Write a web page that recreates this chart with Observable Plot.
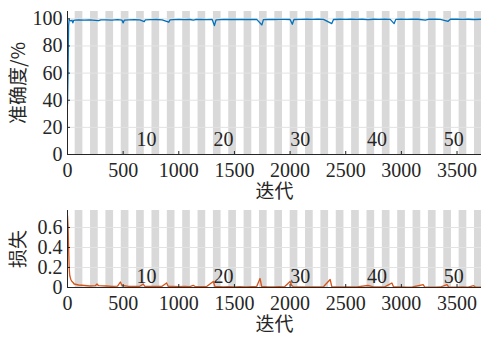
<!DOCTYPE html>
<html><head><meta charset="utf-8">
<script src="https://cdn.jsdelivr.net/npm/d3@7"></script>
<script src="https://cdn.jsdelivr.net/npm/@observablehq/plot@0.6"></script>
<style>
body{margin:0;background:#fff;overflow:hidden}
svg{display:block}
</style>
</head><body><div id="chart"></div>
<script>
const itersPerEpoch = 69;
const epochs = d3.range(1, 55);
const epochLabels = [10, 20, 30, 40, 50];
const xTicks = [0, 500, 1000, 1500, 2000, 2500, 3000, 3500];
const accTicks = [0, 20, 40, 60, 80, 100];
const lossTicks = [0, 0.2, 0.4, 0.6];
const xLabel = "迭代";
const accLabel = "准确度/%";
const lossLabel = "损失";

const accIter = [0,5,10,15,20,30,40,48,55,70,100,150,200,250,280,300,350,400,450,490,500,510,550,600,650,690,700,750,800,850,910,920,950,1000,1050,1100,1130,1150,1200,1250,1300,1320,1335,1400,1450,1500,1550,1600,1650,1700,1747,1760,1800,1850,1900,1950,2000,2020,2035,2100,2150,2200,2250,2300,2375,2390,2450,2500,2550,2600,2650,2700,2750,2800,2850,2900,2935,2950,3000,3050,3100,3150,3215,3250,3300,3350,3420,3440,3500,3550,3600,3650,3720];
const accValue = [37,60,95,99.5,99,98.5,99,97,98.8,99,99.2,99,99.3,98.9,98.6,99.2,99.3,99.1,99.4,99,97,99,99.3,99.4,99.2,98,99.3,99.4,99.5,99.3,97.5,99.2,99.4,99.5,99.4,99.5,99,99.5,99.6,99.4,99.5,95,99.3,99.6,99.5,99.6,99.5,99.6,99.5,99.6,95.5,99.4,99.6,99.5,99.6,99.6,99.5,96,99.5,99.6,99.7,99.6,99.7,99.6,96.5,99.5,99.7,99.6,99.7,99.6,99.7,99.4,99.7,99.6,99.7,99.6,96.5,99.6,99.7,99.6,99.7,99.7,99,99.7,99.7,99.6,98.2,99.7,99.7,99.6,99.7,99.5,99.7];

const lossIter = [0,5,10,15,20,30,40,50,60,80,100,150,200,250,265,280,350,400,450,475,490,550,600,650,681,695,750,800,850,890,905,950,1000,1050,1100,1130,1150,1200,1250,1310,1325,1400,1450,1500,1550,1600,1650,1700,1730,1745,1800,1850,1900,1950,2000,2015,2030,2100,2150,2200,2250,2300,2360,2375,2450,2500,2550,2600,2700,2750,2800,2850,2915,2930,3000,3050,3100,3196,3210,3300,3350,3410,3425,3500,3550,3600,3650,3665,3720];
const lossValue = [0.72,0.62,0.4,0.2,0.12,0.08,0.06,0.05,0.035,0.03,0.025,0.02,0.015,0.018,0.035,0.018,0.015,0.012,0.014,0.055,0.02,0.012,0.01,0.012,0.035,0.012,0.01,0.01,0.012,0.045,0.012,0.01,0.008,0.01,0.009,0.022,0.008,0.008,0.01,0.06,0.01,0.007,0.008,0.006,0.008,0.007,0.008,0.01,0.09,0.01,0.007,0.006,0.008,0.007,0.06,0.02,0.008,0.006,0.007,0.005,0.006,0.007,0.08,0.008,0.005,0.006,0.005,0.006,0.02,0.006,0.005,0.006,0.045,0.006,0.005,0.004,0.005,0.028,0.005,0.004,0.005,0.028,0.005,0.004,0.005,0.004,0.018,0.005,0.004];

const INK = "#262626";
const SERIF = "'Liberation Serif',serif";
const CJK = "'Noto Sans CJK SC',sans-serif";

function panel({iters, values, color, ticks, yMax, height, marginTop, marginBottom, yLabel, epochLabelY, tickLen, fmt, xLabelDy}) {
  const data = iters.map((x, i) => ({x, y: values[i]}));
  const xMax = 3720;
  return Plot.plot({
    width: 481, height, marginLeft: 67, marginRight: 0, marginTop, marginBottom,
    x: {domain: [0, xMax]},
    y: {domain: [0, yMax]},
    marks: [
      Plot.rect(epochs.filter(e => e % 2 === 0), {x1: e => (e - 1) * itersPerEpoch, x2: e => e * itersPerEpoch, y1: 0, y2: yMax, fill: "#d9d9d9", clip: true}),
      Plot.ruleY(ticks.filter(t => t > 0), {y: d => d, stroke: "#e3e3e3", strokeWidth: 1}),
      Plot.line(data, {x: "x", y: "y", stroke: color, strokeWidth: 1.3, clip: true}),
      Plot.ruleX([0], {stroke: INK, strokeWidth: 1}),
      Plot.ruleY([0], {stroke: INK, strokeWidth: 1}),
      Plot.ruleX(xTicks, {x: d => d, y1: 0, y2: tickLen * yMax / (height - marginTop - marginBottom), stroke: INK}),
      Plot.ruleY(ticks, {y: d => d, x1: 0, x2: tickLen * xMax / 414, stroke: INK}),
      Plot.axisX(xTicks, {tickSize: 0, tickPadding: 8, label: null, tickFormat: d => String(d), fill: INK, fontSize: 20, fontFamily: SERIF}),
      Plot.axisY(ticks, {tickSize: 0, tickPadding: 5, label: null, tickFormat: fmt, fill: INK, fontSize: 20, fontFamily: SERIF}),
      Plot.text(epochLabels, {x: n => (n - 1) * itersPerEpoch, y: epochLabelY, text: n => String(n), textAnchor: "start", lineAnchor: "middle", fill: INK, fontSize: 20, fontFamily: SERIF}),
      Plot.text([yLabel], {frameAnchor: "left", textAnchor: "middle", lineAnchor: "middle", rotate: -90, dx: -49, text: d => d, fontSize: 19, fill: INK, fontFamily: CJK}),
      Plot.text([xLabel], {frameAnchor: "bottom", textAnchor: "middle", lineAnchor: "middle", dy: xLabelDy, text: d => d, fontSize: 19, fill: INK, fontFamily: CJK})
    ]
  });
}

const root = document.getElementById("chart");
root.append(panel({iters: accIter, values: accValue, color: "#0072BD", ticks: accTicks, yMax: 105.4, height: 204, marginTop: 11, marginBottom: 50, yLabel: accLabel, epochLabelY: 11, tickLen: 3, fmt: d => String(d), xLabelDy: 37}));
root.append(panel({iters: lossIter, values: lossValue, color: "#D95319", ticks: lossTicks, yMax: 0.77, height: 135, marginTop: 6, marginBottom: 52, yLabel: lossLabel, epochLabelY: 0.105, tickLen: 3, fmt: d => String(d), xLabelDy: 37}));
</script></body></html>
